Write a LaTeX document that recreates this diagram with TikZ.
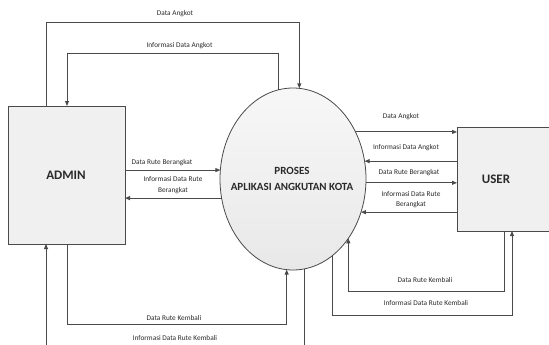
\documentclass[tikz,border=0pt]{standalone}
\usepackage{fontspec}
\setmainfont{Carlito}
\usetikzlibrary{arrows.meta,shapes.geometric}
\definecolor{linecol}{HTML}{4A4A4A}
\definecolor{fillcol}{HTML}{F0F0F0}
\definecolor{txtcol}{HTML}{2A2A2A}
\tikzset{
  flow/.style={draw=linecol, line width=0.9pt, -{Triangle[length=5pt,width=4pt]}},
  entity/.style={draw=linecol, line width=0.8pt, fill=fillcol, rectangle, inner sep=0pt, outer sep=0pt},
  proc/.style={draw=linecol, line width=0.8pt, ellipse, inner sep=0pt, outer sep=0pt,
    top color=white!97!black, bottom color=black!9, minimum width=146pt, minimum height=182pt},
  lbl/.style={font=\fontsize{7.3}{10.5}\selectfont, text=txtcol, inner sep=0pt, align=center},
  big/.style={font=\fontsize{13}{15}\selectfont\bfseries, text=txtcol, inner sep=0pt},
  ptext/.style={font=\fontsize{11}{16}\selectfont\bfseries, text=txtcol, inner sep=0pt, align=center}
}
\begin{document}
\begin{tikzpicture}[x=1pt,y=-1pt]
\useasboundingbox[fill=white] (0,0) rectangle (549,345);
\clip (0,0) rectangle (549,345);
% nodes
\node[entity, minimum width=117pt, minimum height=138pt] (admin) at (66.5,175) {};
\node[big] (admintext) at (66,175) {ADMIN};
\node[entity, minimum width=130pt, minimum height=104pt] (user) at (522,179) {};
\node[big] (usertext) at (496,179) {USER};
\node[proc] (proc) at (293,179) {};
\node[ptext] (proctext) at (292,179) {PROSES\\APLIKASI ANGKUTAN KOTA};
% helper coordinates
\coordinate (c1) at (46,22);
\coordinate (c2) at (67,53);
\coordinate (c3) at (67,324);
\coordinate (c4) at (46,352);
\coordinate (c5) at (504,291);
\coordinate (c6) at (512,315);
% top connectors
\draw[flow] (c1 |- admin.north) -- (c1) -| (proc.86.85);
\draw[flow] (proc.99.56) |- (c2) -- (c2 |- admin.north);
% left connectors
\draw[flow] (admin.east |- proc.173.7) -- (proc.173.7);
\draw[flow] (proc.-165.9) -- (admin.east |- proc.-165.9);
% right connectors
\draw[flow] (proc.37.75) -- (user.west |- proc.37.75);
\draw[flow] (user.west |- proc.14.1) -- (proc.14.1);
\draw[flow] (proc.-3.14) -- (user.west |- proc.-3.14);
\draw[flow] (user.west |- proc.-26.67) -- (proc.-26.67);
% bottom connectors
\draw[flow] (c3 |- admin.south) -- (c3) -| (proc.-94.4);
\draw[flow] (proc.-83.67) |- (c4) -- (c4 |- admin.south);
\draw[flow] (c5 |- user.south) -- (c5) -| (proc.-47.4);
\draw[flow] (proc.-63.9) |- (c6) -- (c6 |- user.south);
% labels
\node[lbl] (l1) at (175,14) {Data Angkot};
\node[lbl] (l2) at (179.5,46) {Informasi Data Angkot};
\node[lbl] (l3) at (162,163) {Data Rute Berangkat};
\node[lbl] (l4) at (173,185) {Informasi Data Rute\\Berangkat};
\node[lbl] (l5) at (401,117) {Data Angkot};
\node[lbl] (l6) at (406,148) {Informasi Data Angkot};
\node[lbl] (l7) at (409,173) {Data Rute Berangkat};
\node[lbl] (l8) at (411,199.5) {Informasi Data Rute\\Berangkat};
\node[lbl] (l9) at (174,318) {Data Rute Kembali};
\node[lbl] (l10) at (175,338) {Informasi Data Rute Kembali};
\node[lbl] (l11) at (425,280) {Data Rute Kembali};
\node[lbl] (l12) at (426,303) {Informasi Data Rute Kembali};
\end{tikzpicture}
\end{document}
